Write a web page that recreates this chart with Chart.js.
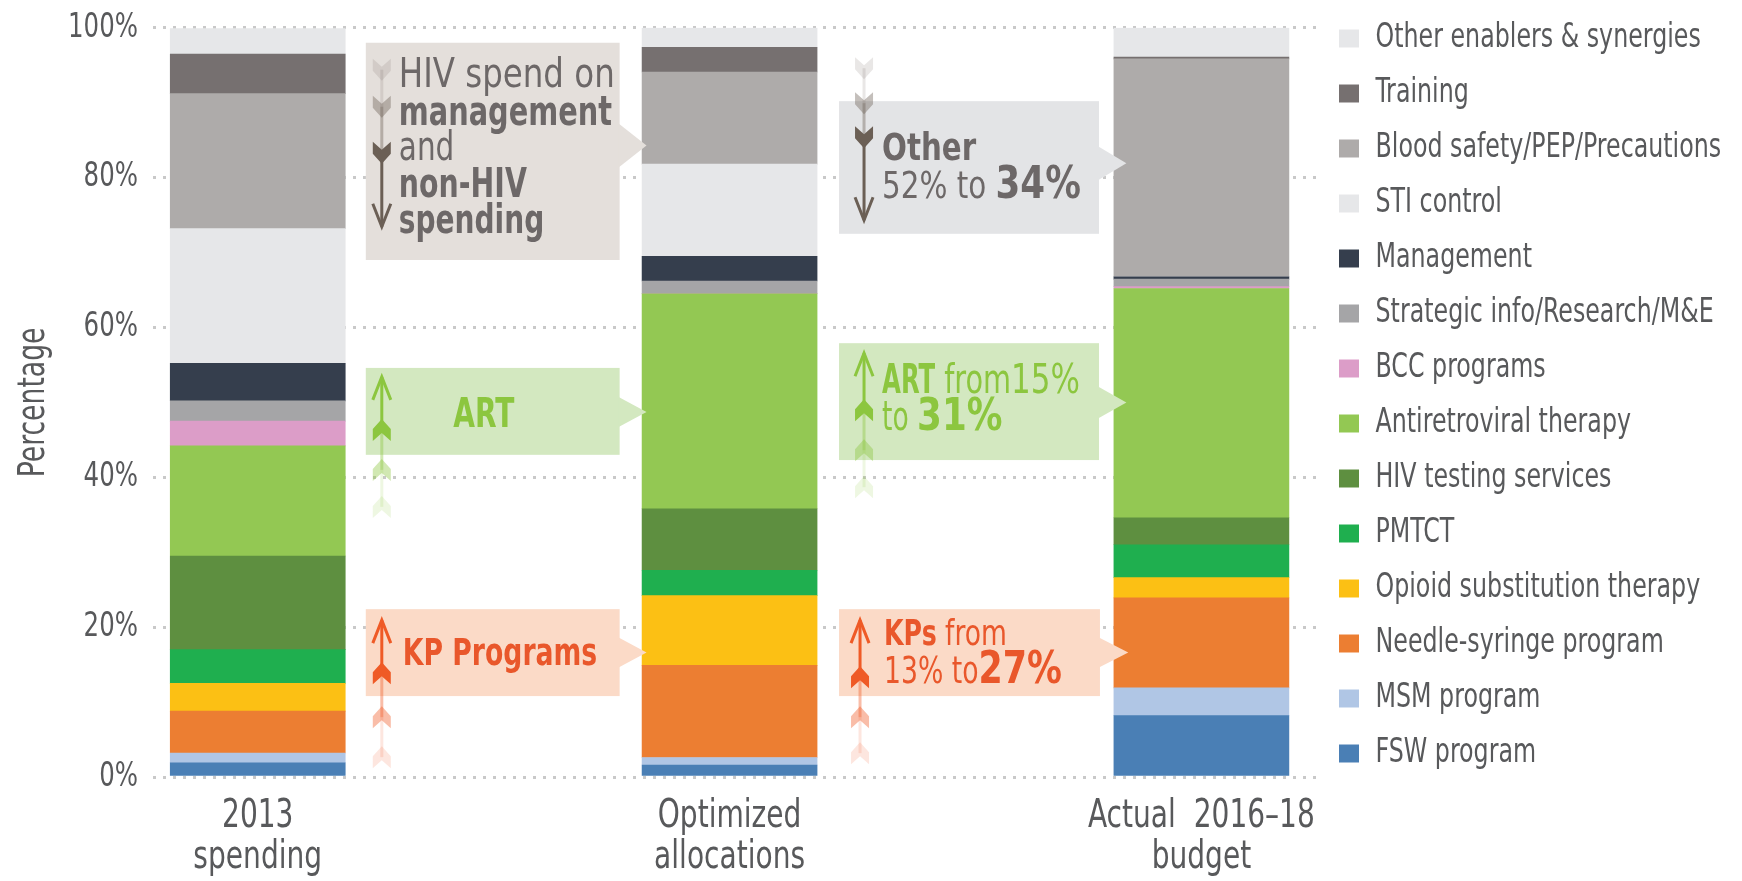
<!DOCTYPE html>
<html>
<head>
<meta charset="utf-8">
<title>HIV spending by programme area</title>
<script src="https://cdn.jsdelivr.net/npm/chart.js@4/dist/chart.umd.min.js"></script>
<style>
  html, body { margin: 0; padding: 0; background: #fff; }
</style>
</head>
<body>
<canvas id="allocchart" width="1742" height="881"></canvas>
<script>
  const FONT = "'DejaVu Sans Condensed', 'DejaVu Sans', sans-serif";

  // Setup Block
  const groups = [['2013', 'spending'], ['Optimized', 'allocations'], ['Actual  2016\u201318', 'budget']];
  const yTicks = [0, 20, 40, 60, 80, 100];

  // spending areas, bottom of the stack first
  const areas = [
    'FSW program', 'MSM program', 'Needle-syringe program', 'Opioid substitution therapy',
    'PMTCT', 'HIV testing services', 'Antiretroviral therapy', 'BCC programs',
    'Strategic info/Research/M&E', 'Management', 'STI control',
    'Blood safety/PEP/Precautions', 'Training', 'Other enablers & synergies'
  ];

  // share of spending (%) : [2013 spending, optimized, actual 2016-18]
  const fsw        = [1.9, 1.6, 8.2];
  const msm        = [1.3, 1.0, 3.7];
  const nsp        = [5.6, 12.3, 12.0];
  const ost        = [3.7, 9.3, 2.7];
  const pmtct      = [4.5, 3.4, 4.4];
  const testing    = [12.5, 8.2, 3.6];
  const art        = [14.7, 28.7, 30.6];
  const bcc        = [3.3, 0, 0.25];
  const strategic  = [2.7, 1.7, 1.0];
  const management = [5.0, 3.3, 0.3];
  const sti        = [18.0, 12.3, 0];
  const blood      = [18.0, 12.3, 29.1];
  const training   = [5.3, 3.3, 0.25];
  const enablers   = [3.4, 2.6, 3.9];

  const values = [fsw, msm, nsp, ost, pmtct, testing, art, bcc, strategic, management, sti, blood, training, enablers];

  const palette = [
    '#4a7fb5', '#b0c6e5', '#ec7e32', '#fcc014', '#1faf4f', '#5e8f40', '#93c853', '#dc9dc8',
    '#a5a5a7', '#353e4d', '#e6e7e9', '#aeabaa', '#767070', '#e6e7e9'
  ];

  const data_alloc = {
    datasets: areas.map((label, i) => ({
      label: label,
      data: values[i].map((v, j) => ({ x: j, y: v })),
      backgroundColor: palette[i],
      borderWidth: 0,
      barThickness: 175
    }))
  };

  // callout boxes between the bars (x in bar units, y in %), text runs: [text, weight, size, squeeze]
  const callouts = [
    {
      x0: 0.229, x1: 0.767, tipX: 0.824, y0: 98.0, y1: 69.0, tipY: 84.3, notch: 22,
      fill: '#e4dfdb', color: '#6d6868', textDx: 33,
      arrow: { dx: 16, dir: 1, head: 184, fletch: [110, 64, 27], color: '#6b5f55' },
      lines: [
        { dy: 44, runs: [['HIV spend on', 'normal', 41, 0.88]] },
        { dy: 82, runs: [['management', 'bold', 41, 0.78]] },
        { dy: 117, runs: [['and', 'normal', 41, 0.8]] },
        { dy: 154, runs: [['non-HIV', 'bold', 41, 0.77]] },
        { dy: 190, runs: [['spending', 'bold', 41, 0.76]] }
      ]
    },
    {
      x0: 0.229, x1: 0.767, tipX: 0.824, y0: 54.6, y1: 43.0, tipY: 48.7, notch: 15,
      fill: '#d3e8c0', color: '#8cc63f', textDx: 118, center: true,
      arrow: { dx: 16, dir: -1, head: 9, fletch: [62, 102, 139], color: '#8cc63f' },
      lines: [{ dy: 59, runs: [['ART', 'bold', 41, 0.76]] }]
    },
    {
      x0: 0.229, x1: 0.767, tipX: 0.824, y0: 22.4, y1: 10.8, tipY: 16.6, notch: 15,
      fill: '#fbdac7', color: '#e9572b', textDx: 37,
      arrow: { dx: 16, dir: -1, head: 11, fletch: [64, 108, 148], color: '#ef5a26' },
      lines: [{ dy: 56, runs: [['KP Programs', 'bold', 38, 0.78]] }]
    },
    {
      x0: 1.232, x1: 1.783, tipX: 1.841, y0: 90.2, y1: 72.5, tipY: 81.9, notch: 17,
      fill: '#e3e4e6', color: '#6d6868', textDx: 43,
      arrow: { dx: 25, dir: 1, head: 119, fletch: [36, 2, -33], color: '#6b5f55' },
      lines: [
        { dy: 59, runs: [['Other', 'bold', 37, 0.88]] },
        { dy: 97, runs: [['52% to ', 'normal', 38, 0.86], ['34%', 'bold', 44, 0.9]] }
      ]
    },
    {
      x0: 1.232, x1: 1.783, tipX: 1.841, y0: 57.9, y1: 42.3, tipY: 50.0, notch: 16,
      fill: '#d3e8c0', color: '#8cc63f', textDx: 43,
      arrow: { dx: 25, dir: -1, head: 10, fletch: [67, 107, 144], color: '#8cc63f' },
      lines: [
        { dy: 50, runs: [['ART', 'bold', 41, 0.66], [' from', 'normal', 41, 0.78], ['15%', 'normal', 41, 0.84]] },
        { dy: 87, runs: [['to ', 'normal', 41, 0.72], ['31%', 'bold', 44, 0.9]] }
      ]
    },
    {
      x0: 1.232, x1: 1.785, tipX: 1.845, y0: 22.4, y1: 10.8, tipY: 16.6, notch: 15,
      fill: '#fbdac7', color: '#e9572b', textDx: 45,
      arrow: { dx: 21, dir: -1, head: 11, fletch: [68, 108, 144], color: '#ef5a26' },
      lines: [
        { dy: 36, runs: [['KPs', 'bold', 36, 0.78], [' from', 'normal', 36, 0.82]] },
        { dy: 74, runs: [['13% to', 'normal', 38, 0.78], ['27%', 'bold', 44, 0.88]] }
      ]
    }
  ];

  // no condensed face is installed, so text on this canvas is squeezed horizontally
  const canvas = document.getElementById('allocchart');
  const ctx2d = canvas.getContext('2d');
  const rawFill = ctx2d.fillText.bind(ctx2d);
  const rawMeasure = ctx2d.measureText.bind(ctx2d);
  ctx2d.squeeze = 0.8;
  ctx2d.fillText = function (text, x, y, maxWidth) {
    const k = this.squeeze;
    this.save();
    this.translate(x, y);
    this.scale(k, 1);
    if (maxWidth === undefined) {
      rawFill(text, 0, 0);
    } else {
      rawFill(text, 0, 0, maxWidth / k);
    }
    this.restore();
  };
  ctx2d.measureText = function (text) {
    const m = rawMeasure(text);
    const k = this.squeeze;
    return {
      width: m.width * k,
      actualBoundingBoxLeft: m.actualBoundingBoxLeft * k,
      actualBoundingBoxRight: m.actualBoundingBoxRight * k,
      actualBoundingBoxAscent: m.actualBoundingBoxAscent,
      actualBoundingBoxDescent: m.actualBoundingBoxDescent,
      fontBoundingBoxAscent: m.fontBoundingBoxAscent,
      fontBoundingBoxDescent: m.fontBoundingBoxDescent
    };
  };

  function drawFletch(ctx, x, y, s) {
    ctx.beginPath();
    ctx.moveTo(x, y + s * 11);
    ctx.lineTo(x + 9, y + s * 1);
    ctx.lineTo(x + 9, y - s * 11);
    ctx.lineTo(x, y - s * 3);
    ctx.lineTo(x - 9, y - s * 11);
    ctx.lineTo(x - 9, y + s * 1);
    ctx.closePath();
    ctx.fill();
  }

  function drawArrow(ctx, ax, top, a) {
    const s = a.dir;
    const head = top + a.head;
    const fl = a.fletch.map(o => top + o);
    const alphas = [1, 0.4, 0.15];
    ctx.save();
    ctx.strokeStyle = a.color;
    ctx.fillStyle = a.color;
    ctx.lineWidth = 3;
    ctx.beginPath();
    ctx.moveTo(ax, fl[0]);
    ctx.lineTo(ax, head);
    ctx.stroke();
    ctx.beginPath();
    ctx.moveTo(ax - 9, head - s * 23);
    ctx.lineTo(ax, head);
    ctx.lineTo(ax + 9, head - s * 23);
    ctx.stroke();
    for (let i = 1; i < fl.length; i++) {
      ctx.globalAlpha = alphas[i];
      ctx.beginPath();
      ctx.moveTo(ax, fl[i - 1]);
      ctx.lineTo(ax, fl[i]);
      ctx.stroke();
    }
    fl.forEach((fy, i) => {
      ctx.globalAlpha = alphas[i];
      drawFletch(ctx, ax, fy, s);
    });
    ctx.restore();
  }

  const calloutPlugin = {
    id: 'callouts',
    afterDatasetsDraw(chart) {
      const { ctx } = chart;
      const xs = chart.scales.x, ys = chart.scales.y;
      callouts.forEach(c => {
        const left = xs.getPixelForValue(c.x0), right = xs.getPixelForValue(c.x1);
        const top = ys.getPixelForValue(c.y0), bottom = ys.getPixelForValue(c.y1);
        const tipX = xs.getPixelForValue(c.tipX), tipY = ys.getPixelForValue(c.tipY);
        ctx.save();
        ctx.fillStyle = c.fill;
        ctx.fillRect(left, top, right - left, bottom - top);
        ctx.beginPath();
        ctx.moveTo(right - 1, tipY - c.notch);
        ctx.lineTo(tipX, tipY);
        ctx.lineTo(right - 1, tipY + c.notch);
        ctx.closePath();
        ctx.fill();
        drawArrow(ctx, left + c.arrow.dx, top, c.arrow);

        const keep = ctx.squeeze;
        ctx.fillStyle = c.color;
        ctx.textBaseline = 'alphabetic';
        ctx.textAlign = 'left';
        c.lines.forEach(line => {
          const widths = line.runs.map(([t, w, sz, k]) => {
            ctx.font = w + ' ' + sz + 'px ' + FONT;
            ctx.squeeze = k;
            return ctx.measureText(t).width;
          });
          const total = widths.reduce((a, b) => a + b, 0);
          let tx = c.center ? left + c.textDx - total / 2 : left + c.textDx;
          line.runs.forEach(([t, w, sz, k], n) => {
            ctx.font = w + ' ' + sz + 'px ' + FONT;
            ctx.squeeze = k;
            ctx.fillText(t, tx, top + line.dy);
            tx += widths[n];
          });
        });
        ctx.squeeze = keep;
        ctx.restore();
      });
    }
  };

  // keeps the legend column a fixed width on the right
  const legendWidth = 425;
  const legendWidthPlugin = {
    id: 'legendWidth',
    beforeLayout(chart) {
      const legend = chart.legend;
      if (legend && !legend._fixedWidth) {
        const fit = legend.fit;
        legend.fit = function () {
          fit.call(this);
          this.width = legendWidth;
        };
        legend._fixedWidth = true;
      }
    }
  };

  // Config Block
  const config_alloc = {
    type: 'bar',
    data: data_alloc,
    plugins: [legendWidthPlugin, calloutPlugin],
    options: {
      responsive: false,
      animation: false,
      font: { family: FONT },
      layout: { padding: 0 },
      scales: {
        x: {
          type: 'linear',
          stacked: true,
          offset: false,
          min: -0.222,
          max: 2.245,
          grid: { display: false },
          border: { display: false },
          afterBuildTicks: scale => { scale.ticks = groups.map((g, i) => ({ value: i })); },
          afterFit: scale => { scale.height = 104; },
          ticks: {
            autoSkip: false,
            maxRotation: 0,
            padding: 11,
            color: '#58595b',
            font: { family: FONT, size: 39, lineHeight: 1.06 },
            callback: v => groups[v] || ''
          }
        },
        y: {
          stacked: true,
          min: 0,
          max: 100,
          afterBuildTicks: scale => { scale.ticks = yTicks.map(v => ({ value: v })); },
          afterFit: scale => { scale.width = 153; },
          grid: { color: '#c9c9c9', lineWidth: 3, drawTicks: false },
          border: { display: false, dash: [3, 7] },
          ticks: {
            padding: 15,
            color: '#58595b',
            font: { family: FONT, size: 34, lineHeight: 0.75 },
            callback: v => v + '%'
          },
          title: {
            display: true,
            text: 'Percentage',
            color: '#58595b',
            font: { family: FONT, size: 37 },
            padding: { top: 12, bottom: 0 }
          }
        }
      },
      plugins: {
        legend: {
          position: 'right',
          align: 'start',
          reverse: true,
          labels: {
            boxWidth: 20,
            boxHeight: 18,
            padding: 22,
            color: '#58595b',
            font: { family: FONT, size: 33 }
          }
        },
        tooltip: { enabled: false }
      }
    }
  };

  // Render Block
  const allocchart = new Chart(canvas, config_alloc);
</script>
</body>
</html>
